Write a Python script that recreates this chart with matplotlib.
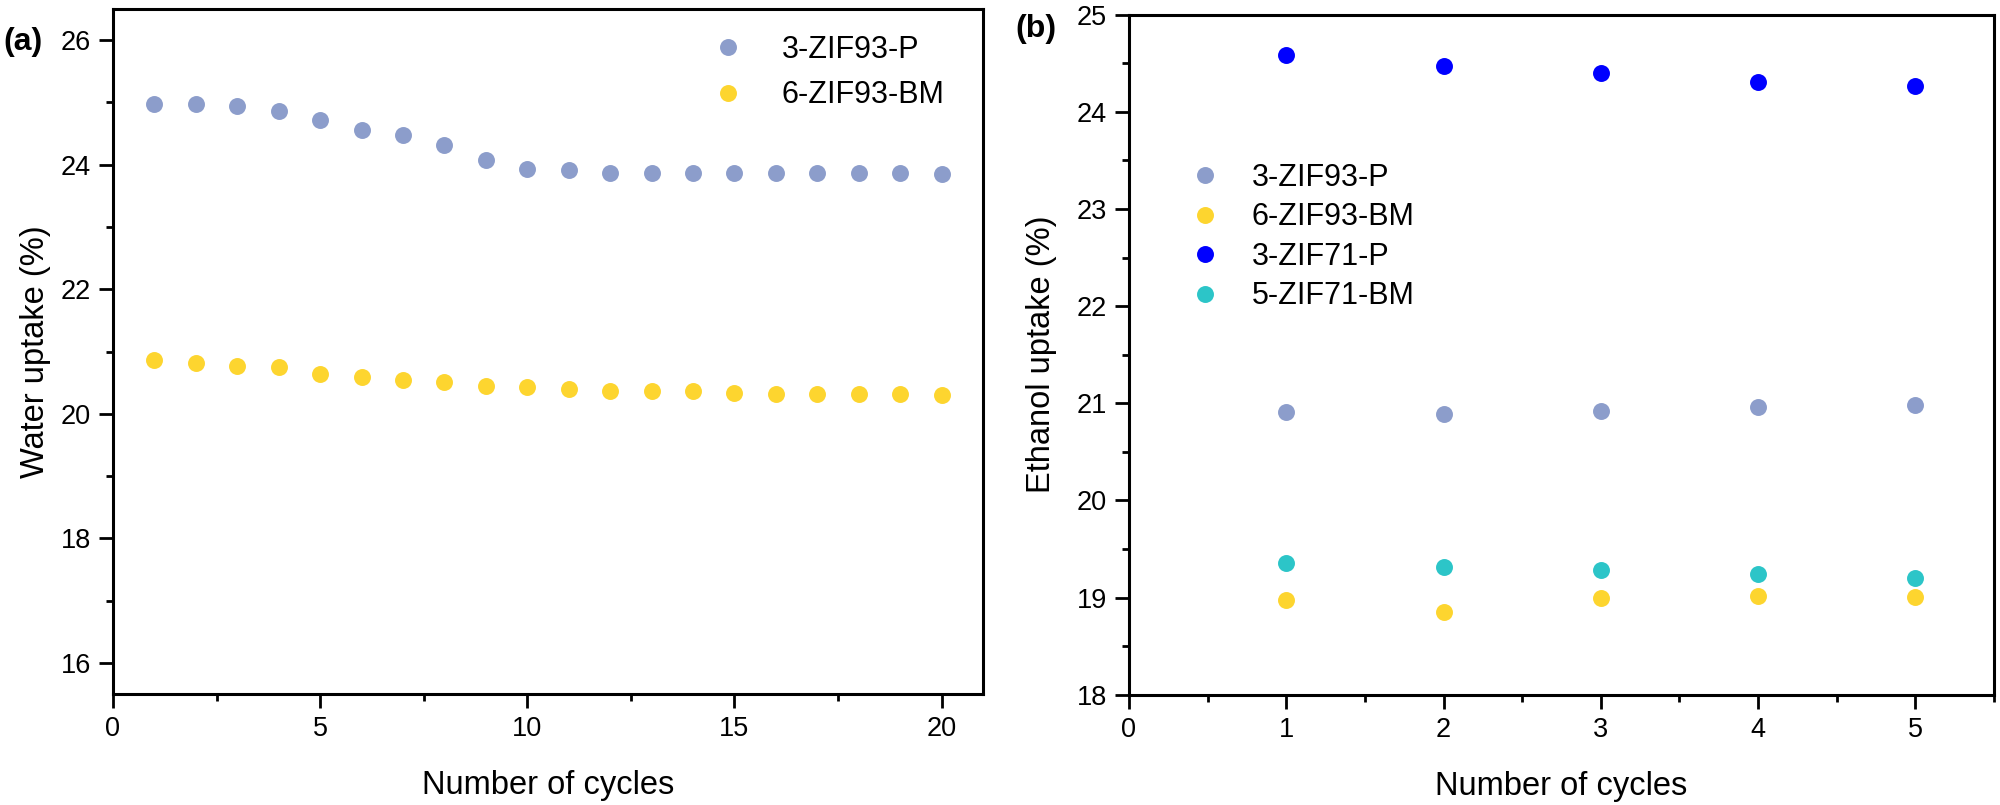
import numpy as np
import matplotlib
matplotlib.use("Agg")
import matplotlib.pyplot as plt
from matplotlib.ticker import MultipleLocator

plt.rcParams['font.family'] = ['Liberation Sans', 'DejaVu Sans']

#---Data (a): water uptake over 20 cycles
cycles_a = np.arange(1, 21)
water_zif93_p = [24.98, 24.97, 24.94, 24.87, 24.72, 24.55, 24.47, 24.31, 24.07, 23.93,
                 23.92, 23.87, 23.87, 23.86, 23.86, 23.87, 23.86, 23.87, 23.86, 23.85]
water_zif93_bm = [20.86, 20.82, 20.77, 20.75, 20.64, 20.59, 20.55, 20.51, 20.45, 20.43,
                  20.39, 20.37, 20.37, 20.36, 20.34, 20.32, 20.32, 20.31, 20.31, 20.30]

#---Data (b): ethanol uptake over 5 cycles
cycles_b = np.arange(1, 6)
eth_zif93_p = [20.91, 20.89, 20.92, 20.96, 20.98]
eth_zif93_bm = [18.97, 18.85, 19.00, 19.02, 19.01]
eth_zif71_p = [24.59, 24.47, 24.40, 24.31, 24.27]
eth_zif71_bm = [19.36, 19.31, 19.28, 19.24, 19.20]

labels_a = ["3-ZIF93-P", "6-ZIF93-BM"]
labels_b = ["3-ZIF93-P", "6-ZIF93-BM", "3-ZIF71-P", "5-ZIF71-BM"]

c_93p = "#8c9dcb"
c_93bm = "#fdd52f"
c_71p = "#0000ff"
c_71bm = "#2cc5c8"

ms = 12.2


def style_axes(ax):
    for sp in ax.spines.values():
        sp.set_linewidth(2.2)
    ax.tick_params(which='major', direction='out', length=10, width=2.0,
                   labelsize=19.5, top=False, right=False, pad=6)
    ax.tick_params(which='minor', direction='out', length=5, width=2.0,
                   top=False, right=False)


fig = plt.figure(figsize=(20, 8.05), dpi=100)

#---Panel (a)
ax1 = fig.add_axes([0.0565, 0.1379, 0.435, 0.8509])
ax1.plot(cycles_a, water_zif93_p, 'o', color=c_93p, ms=ms, mew=0, label=labels_a[0])
ax1.plot(cycles_a, water_zif93_bm, 'o', color=c_93bm, ms=ms, mew=0, label=labels_a[1])
ax1.set_xlim(0, 21)
ax1.set_ylim(15.5, 26.5)
ax1.xaxis.set_major_locator(MultipleLocator(5))
ax1.xaxis.set_minor_locator(MultipleLocator(2.5))
ax1.yaxis.set_major_locator(MultipleLocator(2))
ax1.yaxis.set_minor_locator(MultipleLocator(1))
style_axes(ax1)
ax1.set_xlabel("Number of cycles", fontsize=23.5, labelpad=20)
ax1.set_ylabel("Water uptake (%)", fontsize=23.5, labelpad=7)
ax1.legend(loc='upper left', bbox_to_anchor=(0.675, 0.98), frameon=False,
           fontsize=22, handlelength=1.0, handletextpad=1.26, labelspacing=0.50,
           borderaxespad=0)

#---Panel (b)
ax2 = fig.add_axes([0.5645, 0.137, 0.4325, 0.8447])
ax2.plot(cycles_b, eth_zif93_p, 'o', color=c_93p, ms=ms, mew=0, label=labels_b[0])
ax2.plot(cycles_b, eth_zif93_bm, 'o', color=c_93bm, ms=ms, mew=0, label=labels_b[1])
ax2.plot(cycles_b, eth_zif71_p, 'o', color=c_71p, ms=ms, mew=0, label=labels_b[2])
ax2.plot(cycles_b, eth_zif71_bm, 'o', color=c_71bm, ms=ms, mew=0, label=labels_b[3])
ax2.set_xlim(0, 5.5)
ax2.set_ylim(18, 25)
ax2.xaxis.set_major_locator(MultipleLocator(1))
ax2.xaxis.set_minor_locator(MultipleLocator(0.5))
ax2.yaxis.set_major_locator(MultipleLocator(1))
ax2.yaxis.set_minor_locator(MultipleLocator(0.5))
style_axes(ax2)
ax2.set_xlabel("Number of cycles", fontsize=23.5, labelpad=20)
ax2.set_ylabel("Ethanol uptake (%)", fontsize=23.5, labelpad=14)
ax2.legend(loc='upper left', bbox_to_anchor=(0.0555, 0.80), frameon=False,
           fontsize=22, handlelength=1.0, handletextpad=1.04, labelspacing=0.31,
           borderaxespad=0)

fig.text(0.0015, 0.948, "(a)", fontsize=23, fontweight='bold', va='center', ha='left')
fig.text(0.5075, 0.964, "(b)", fontsize=23, fontweight='bold', va='center', ha='left')

fig.savefig("out.png", dpi=100)
